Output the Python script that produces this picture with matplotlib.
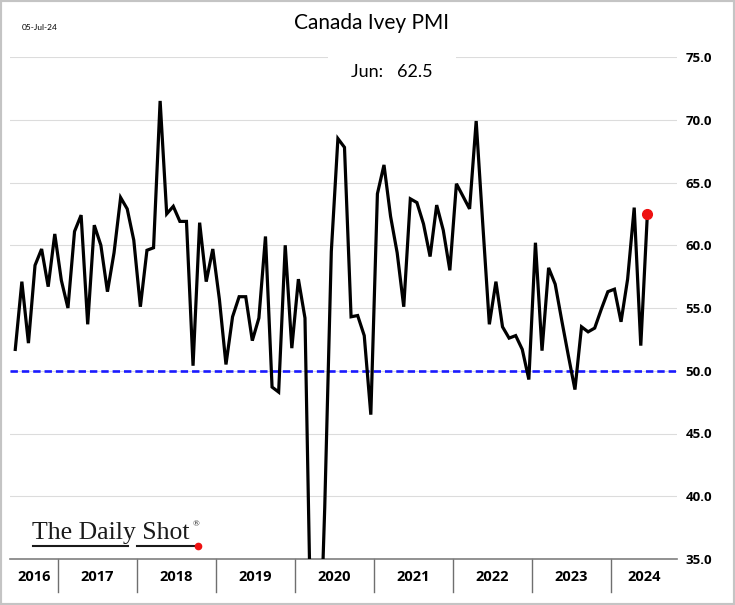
import numpy as np
import matplotlib
matplotlib.use("Agg")
import matplotlib.pyplot as plt
import matplotlib.transforms as mtransforms
from matplotlib.patches import Rectangle

# Canada Ivey PMI, monthly, Jun 2016 .. Jun 2024
pmi = [
    51.7, 57.1, 52.2, 58.4, 59.7, 56.7, 60.9,                              # 2016 (Jun-Dec)
    57.2, 55.0, 61.1, 62.4, 53.7, 61.6, 60.0, 56.3, 59.4, 63.8, 62.9, 60.4,  # 2017
    55.1, 59.6, 59.8, 71.5, 62.5, 63.1, 61.9, 61.9, 50.4, 61.8, 57.1, 59.7,  # 2018
    55.7, 50.5, 54.3, 55.9, 55.9, 52.4, 54.2, 60.7, 48.7, 48.3, 60.0, 51.8,  # 2019
    57.3, 54.2, 26.0, 22.8, 39.1, 59.5, 68.5, 67.8, 54.3, 54.4, 52.8, 46.5,  # 2020
    64.1, 66.4, 62.3, 59.4, 55.1, 63.7, 63.4, 61.7, 59.1, 63.2, 61.2, 58.0,  # 2021
    64.9, 63.9, 62.9, 69.9, 61.7, 53.7, 57.1, 53.5, 52.6, 52.8, 51.7, 49.3,  # 2022
    60.2, 51.6, 58.2, 56.9, 54.0, 51.2, 48.5, 53.5, 53.1, 53.4, 54.9, 56.3,  # 2023
    56.5, 53.9, 57.3, 63.0, 52.0, 62.5,                                      # 2024 (Jan-Jun)
]
years = ["2016", "2017", "2018", "2019", "2020", "2021", "2022", "2023", "2024"]
y_ticks = [35, 40, 45, 50, 55, 60, 65, 70, 75]

W, H = 735, 605
fig = plt.figure(figsize=(W / 100, H / 100), dpi=100)
ax = fig.add_axes([10 / W, 1 - 559 / H, 667 / W, 502 / H])

x = np.arange(len(pmi))
ax.plot(x, pmi, color="black", lw=2.3, solid_joinstyle="miter", zorder=3)
ax.plot(x[-1], pmi[-1], "o", color="#ee1111", ms=7, zorder=4)
ax.axhline(50, color="#1a1aff", lw=1.9, dashes=(2.8, 1.5), zorder=2)

ax.set_xlim(-0.8, 100.5)
ax.set_ylim(35, 75)
ax.set_yticks(y_ticks)
ax.set_yticklabels([f"{v:.1f}" for v in y_ticks], fontfamily="Open Sans",
                   fontweight="bold", fontsize=9.5)
ax.yaxis.tick_right()
ax.tick_params(axis="y", length=0, pad=6)
ax.set_xticks([])
ax.grid(axis="y", color="#dcdcdc", lw=0.8)
for s in ["top", "left", "right"]:
    ax.spines[s].set_visible(False)
ax.spines["bottom"].set_color("#7f7f7f")
ax.spines["bottom"].set_linewidth(1.2)

# year separators and labels under the axis
trans = mtransforms.blended_transform_factory(ax.transData, ax.transAxes)
first_jan = 7  # index of Jan 2017
seps = [first_jan - 0.5 + 12 * k for k in range(len(years) - 1)]
for s in seps:
    ax.plot([s, s], [0, -0.066], color="#6f6f6f", lw=1.0, transform=trans, clip_on=False)
edges = [ax.get_xlim()[0]] + seps + [ax.get_xlim()[1]]
for i, yr in enumerate(years):
    ax.text((edges[i] + edges[i + 1]) / 2, -0.036, yr, transform=trans, ha="center",
            va="center", fontfamily="Open Sans", fontweight="bold", fontsize=10.5)

# titles
fig.text(371 / W, 1 - 23 / H, "Canada Ivey PMI", ha="center", va="center",
         fontfamily="Lato", fontsize=15)
fig.text(40 / W, 1 - 28 / H, "05-Jul-24", ha="center", va="center",
         fontfamily="Lato", fontsize=6)
fig.text(392 / W, 1 - 72 / H, "Jun:   62.5", ha="center", va="center",
         fontfamily="Lato", fontsize=13,
         bbox=dict(facecolor="white", edgecolor="none", pad=17))

# logo
fig.text(32 / W, 1 - 533 / H, "The Daily Shot", ha="left", va="center",
         fontfamily="Liberation Serif", fontsize=18.5, color="#1a1a1a")
fig.text(193 / W, 1 - 524 / H, "®", ha="left", va="center",
         fontfamily="Liberation Serif", fontsize=6.5, color="#1a1a1a")
fig.add_artist(plt.Line2D([33 / W, 128 / W], [1 - 546 / H] * 2, color="#1a1a1a", lw=1.5))
fig.add_artist(plt.Line2D([137 / W, 196 / W], [1 - 546 / H] * 2, color="#1a1a1a", lw=1.5))
fig.add_artist(plt.Line2D([198 / W], [1 - 546 / H], marker="o", color="#ee1111", ms=4.5))

# outer frame
fig.add_artist(Rectangle((0, 0), 1, 1, transform=fig.transFigure, fill=False,
                         edgecolor="#c4c4c4", lw=3))

fig.savefig("out.png", dpi=100, facecolor="white")
